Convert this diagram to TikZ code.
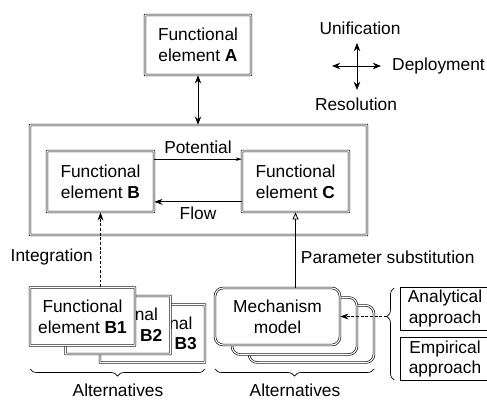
\documentclass[tikz,border=0pt]{standalone}
\usepackage{fontspec}
\setmainfont{Liberation Sans}
\usetikzlibrary{arrows.meta,decorations.pathreplacing,positioning}

\tikzset{
	dbox/.style={draw, double, double distance=1pt, line width=0.55pt, fill=white, rounded corners=0.2pt, align=center, inner sep=2pt},
	elem/.style={dbox, minimum width=3.15cm, minimum height=1.74cm},
	mech/.style={dbox, rounded corners=7pt, minimum width=3.75cm, minimum height=1.71cm},
	appr/.style={draw, line width=0.55pt, align=center, minimum width=2.7cm, minimum height=1.3cm, inner sep=1pt},
	brc/.style={decorate, line width=0.6pt},
	arr/.style={line width=0.7pt, -{Stealth[length=7pt,width=5pt]}},
	darr/.style={line width=0.7pt, {Stealth[length=7pt,width=5.5pt]}-{Stealth[length=7pt,width=5.5pt]}},
	dsh/.style={dash pattern=on 2.5pt off 1.5pt},
}

\begin{document}
\begin{tikzpicture}[x=0.03cm, y=-0.03cm, font=\fontsize{14.8}{17.6}\selectfont, line join=round]
	\useasboundingbox (0,0) rectangle (487,399);
	
	% compass
	\coordinate (cU) at (357,43);
	\coordinate (cD) at (357,90);
	\coordinate (cL) at (332,66);
	\coordinate (cR) at (381,66);
	\draw[darr] (cD) -- (cU);
	\draw[darr] (cL) -- (cR);
	\node (unif) at (360,28) {Unification};
	\node (reso) at (356,104) {Resolution};
	\node[anchor=west, inner sep=0pt] (depl) at (392,66) {Deployment};
	
	% top element and system
	\node[elem, minimum width=3.18cm, minimum height=1.8cm] (A) at (198,45) {Functional\\element \textbf{A}};
	\node[dbox, fill=none, minimum width=10.11cm, minimum height=3.3cm] (system) at (198.5,180) {};
	\node[elem, minimum width=3.21cm, minimum height=1.83cm] (B) at (100.5,181.5) {Functional\\element \textbf{B}};
	\node[elem, minimum width=3.21cm, minimum height=1.83cm] (C) at (295.5,181.5) {Functional\\element \textbf{C}};
	\draw[darr] (A.south) -- (A.south |- system.north);
	\draw[line width=0.55pt, -{Stealth[length=5pt,width=3pt]}] ([yshift=0.67cm]B.east) -- ([yshift=0.67cm]C.west)
		node[midway, above=1pt] (pot) {Potential};
	\draw[arr] ([yshift=-0.61cm]C.west) -- ([yshift=-0.61cm]B.east)
		node[midway, below=1pt] (flow) {Flow};
	
	% alternatives of B
	\node[elem] (B3) at (152.5,333.5) {Functional\\element \textbf{B3}};
	\node[elem] (B2) at (118,325) {Functional\\element \textbf{B2}};
	\node[elem] (B1) at (82.5,316.5) {Functional\\element \textbf{B1}};
	\draw[arr, dsh] (B1.north -| B.south) -- (B.south)
		node[pos=0.4, left=3pt] (integ) {Integration};
	
	% mechanism models
	\node[mech] (mech3) at (311.5,334) {};
	\node[mech] (mech2) at (294.5,326) {};
	\node[mech] (mech1) at (277.5,316.5) {Mechanism\\model};
	\draw[line width=0.7pt, -{Triangle[open,length=6pt,width=5pt]}] (mech1.north -| C.south) -- (C.south)
		node[pos=0.4, right=1pt] (param) {Parameter substitution};
	
	% approaches
	\node[appr] (anal) at (445,308.5) {Analytical\\approach};
	\node[appr] (empi) at (445,359) {Empirical\\approach};
	\draw[brc, decoration={brace, mirror, amplitude=6pt, aspect=0.31}] (394,288) -- (394,380);
	\coordinate (brtip) at (387,316.5);
	\draw[arr, dsh] (brtip) -- (mech1.east);
	
	% braces below
	\draw[brc, decoration={brace, mirror, amplitude=6pt}] (30,369) -- (205,369);
	\draw[brc, decoration={brace, mirror, amplitude=6pt}] (215,369) -- (374,369);
	\node[inner sep=0pt] (altB) at (118,390) {Alternatives};
	\node[inner sep=0pt] (altM) at (295,390) {Alternatives};
\end{tikzpicture}
\end{document}
